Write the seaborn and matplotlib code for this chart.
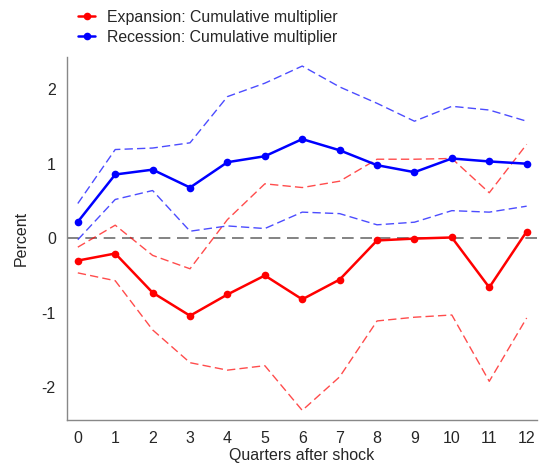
#! /usr/bin/env python3
'''
Cumulative multiplier: expansion vs recession
'''

import matplotlib.pyplot as plt
import seaborn as sns

# data
quarters = list(range(13))
exp_mid = [-0.30, -0.205, -0.73, -1.04, -0.755, -0.50, -0.82, -0.555, -0.03, -0.005, 0.01, -0.66, 0.09]
exp_hi = [-0.12, 0.175, -0.23, -0.41, 0.25, 0.73, 0.68, 0.765, 1.06, 1.06, 1.07, 0.61, 1.26]
exp_lo = [-0.465, -0.57, -1.23, -1.67, -1.77, -1.71, -2.31, -1.86, -1.11, -1.06, -1.03, -1.92, -1.07]
rec_mid = [0.22, 0.855, 0.92, 0.68, 1.02, 1.10, 1.33, 1.18, 0.98, 0.886, 1.07, 1.03, 1.00]
rec_hi = [0.466, 1.19, 1.21, 1.28, 1.90, 2.08, 2.31, 2.03, 1.81, 1.57, 1.77, 1.72, 1.57]
rec_lo = [-0.02, 0.52, 0.64, 0.094, 0.165, 0.13, 0.35, 0.33, 0.18, 0.215, 0.37, 0.35, 0.43]

sns.set_style("white")
plt.rcParams['font.family'] = ['Liberation Sans', 'DejaVu Sans']
plt.rcParams['axes.unicode_minus'] = False

fig = plt.figure(figsize=(5.4, 4.72), dpi=100)
ax = fig.add_axes([0.124, 0.110, 0.870, 0.769])

# zero line
ax.axhline(0, color='#6e6e6e', linewidth=1.2, linestyle=(0, (7, 4)), zorder=1)

# confidence bands
for y, c in [(exp_hi, 'red'), (exp_lo, 'red'), (rec_hi, 'blue'), (rec_lo, 'blue')]:
    sns.lineplot(x=quarters, y=y, ax=ax, color=c, alpha=0.7, linewidth=1.0,
                 linestyle=(0, (6, 3)))

# point estimates
sns.lineplot(x=quarters, y=exp_mid, ax=ax, color='red', linewidth=1.8, marker='o',
             markersize=5.5, markeredgewidth=0, label='Expansion: Cumulative multiplier')
sns.lineplot(x=quarters, y=rec_mid, ax=ax, color='blue', linewidth=1.8, marker='o',
             markersize=5.5, markeredgewidth=0, label='Recession: Cumulative multiplier')

ax.set_xlim(-0.29, 12.27)
ax.set_ylim(-2.44, 2.43)
ax.set_xticks(quarters)
ax.set_yticks([-2, -1, 0, 1, 2])
ax.tick_params(axis='both', length=0, labelsize=11.5, pad=8)
ax.set_xlabel('Quarters after shock', fontsize=11.5, labelpad=1)
ax.set_ylabel('Percent', fontsize=11.5, labelpad=9)
for s in ['top', 'right']:
    ax.spines[s].set_visible(False)
for s in ['left', 'bottom']:
    ax.spines[s].set_color('#888888')
    ax.spines[s].set_linewidth(1.0)

ax.legend(loc='upper left', bbox_to_anchor=(78 / 540, 1 - 10 / 472), bbox_transform=fig.transFigure,
          borderpad=0, borderaxespad=0, frameon=False, fontsize=11.4,
          handlelength=1.1, labelspacing=0.3, handletextpad=0.75)

fig.savefig('out.png', dpi=100)
